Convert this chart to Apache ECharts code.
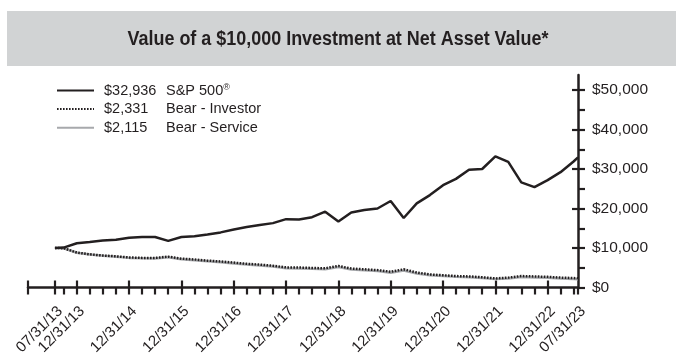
<!DOCTYPE html>
<html><head><meta charset="utf-8">
<script src="https://cdn.jsdelivr.net/npm/echarts@6/dist/echarts.min.js"></script>
<style>html,body{margin:0;padding:0;background:#fff}#c{width:676px;height:355px}</style>
</head><body><div id="c"></div>
<script>
const titleText = 'Value of a $10,000 Investment at Net Asset Value*';
const dates = [
  '2013-07-31','2013-09-30','2013-12-31',
  '2014-03-31','2014-06-30','2014-09-30','2014-12-31',
  '2015-03-31','2015-06-30','2015-09-30','2015-12-31',
  '2016-03-31','2016-06-30','2016-09-30','2016-12-31',
  '2017-03-31','2017-06-30','2017-09-30','2017-12-31',
  '2018-03-31','2018-06-30','2018-09-30','2018-12-31',
  '2019-03-31','2019-06-30','2019-09-30','2019-12-31',
  '2020-03-31','2020-06-30','2020-09-30','2020-12-31',
  '2021-03-31','2021-06-30','2021-09-30','2021-12-31',
  '2022-03-31','2022-06-30','2022-09-30','2022-12-31',
  '2023-03-31','2023-06-30','2023-07-31'
];
const sp500 = [10000,10100,11200,11500,11900,12100,12600,12800,12800,11800,12800,13000,13400,13950,14700,15300,15800,16300,17300,17200,17800,19200,16700,19000,19600,20000,21900,17600,21300,23400,25900,27500,29800,30000,33200,31800,26600,25400,27200,29200,31900,32936];
const bearInvestor = [10000,9950,8850,8400,8100,7900,7600,7500,7500,7800,7300,7100,6800,6600,6300,6000,5800,5500,5100,5050,4950,4850,5450,4800,4600,4400,4000,4600,3800,3300,3100,2900,2800,2600,2300,2500,2900,2800,2700,2500,2400,2331];
const bearService = [10000,9930,8810,8350,8030,7810,7500,7380,7360,7640,7140,6920,6620,6410,6100,5800,5590,5290,4890,4830,4720,4620,5180,4550,4350,4150,3760,4320,3560,3080,2890,2690,2590,2400,2120,2300,2660,2560,2460,2280,2180,2115];
const seriesNames = ['S&P 500®','Bear - Investor','Bear - Service'];
const endingValues = ['$32,936','$2,331','$2,115'];
const xAxisStart = '2013-01-24';
const xAxisEnd = '2023-07-31';
const xLabelDates = ['2013-07-31','2013-12-31','2014-12-31','2015-12-31','2016-12-31','2017-12-31','2018-12-31','2019-12-31','2020-12-31','2021-12-31','2022-12-31','2023-07-31'];
const xTickDates = ['2013-01-24','2013-07-31','2013-09-30','2013-12-31',
  '2014-03-31','2014-06-30','2014-09-30','2014-12-31',
  '2015-03-31','2015-06-30','2015-09-30','2015-12-31',
  '2016-03-31','2016-06-30','2016-09-30','2016-12-31',
  '2017-03-31','2017-06-30','2017-09-30','2017-12-31',
  '2018-03-31','2018-06-30','2018-09-30','2018-12-31',
  '2019-03-31','2019-06-30','2019-09-30','2019-12-31',
  '2020-03-31','2020-06-30','2020-09-30','2020-12-31',
  '2021-03-31','2021-06-30','2021-09-30','2021-12-31',
  '2022-03-31','2022-06-30','2022-09-30','2022-12-31',
  '2023-03-31','2023-06-30','2023-07-31'];
const xCrossDates = ['2013-01-24','2013-07-31','2013-12-31','2014-12-31','2015-12-31','2016-12-31','2017-12-31','2018-12-31','2019-12-31','2020-12-31','2021-12-31','2022-12-31'];
const yMin = 0, yMax = 53800;
const yTickValues = [0,5000,10000,15000,20000,25000,30000,35000,40000,45000,50000];
const yLabelValues = [0,10000,20000,30000,40000,50000];

const INK = '#231f20';
const toTs = s => Date.UTC(+s.slice(0,4), +s.slice(5,7)-1, +s.slice(8,10));
const pad2 = n => (n < 10 ? '0' : '') + n;
const fmtDate = v => { const d = new Date(v); return pad2(d.getUTCMonth()+1) + '/' + pad2(d.getUTCDate()) + '/' + pad2(d.getUTCFullYear() % 100); };
const fmtMoney = v => '$' + String(Math.round(v)).replace(/\B(?=(\d{3})+(?!\d))/g, ',');
const FONT = "'Liberation Sans', Arial, sans-serif";
const TITLE_FONT = 'bold 20px "Liberation Sans", Arial, sans-serif';
const titleWidth = 421;
const mctx = document.createElement('canvas').getContext('2d');
mctx.font = TITLE_FONT;
const titleScaleX = titleWidth / mctx.measureText(titleText).width;

const chart = echarts.init(document.getElementById('c'), null, {renderer: 'canvas'});
const mk = arr => dates.map((d, i) => [toTs(d), arr[i]]);
const option = {
  animation: false,
  backgroundColor: '#fff',
  graphic: [
    {type: 'rect', z: -10, shape: {x: 7, y: 11, width: 669, height: 55}, style: {fill: '#d1d3d4'}},
    {type: 'text', z: 10, x: 338, y: 39, scaleX: titleScaleX,
      style: {text: titleText, font: TITLE_FONT, fill: INK, textAlign: 'center', textVerticalAlign: 'middle'}}
  ],
  legend: {
    orient: 'vertical', left: 56, top: 83, padding: 0, itemWidth: 37, itemHeight: 14, itemGap: 3.6,
    selectedMode: false, data: seriesNames,
    itemStyle: {opacity: 0},
    formatter: name => {
      const i = seriesNames.indexOf(name);
      const v = '{v|' + endingValues[i] + '}';
      if (name.endsWith('®')) return v + '{n|' + name.slice(0, -1) + '}{r|®}';
      return v + '{n|' + name + '}';
    },
    textStyle: {color: INK, fontFamily: FONT, fontSize: 14.5,
      rich: {
        v: {width: 62, padding: [0,0,0,5], fontSize: 14.5, color: INK, fontFamily: FONT},
        n: {fontSize: 14.5, color: INK, fontFamily: FONT},
        r: {fontSize: 9, color: INK, fontFamily: FONT, verticalAlign: 'top', padding: [0,0,6,0]}
      }}
  },
  grid: {left: 28, right: 98, top: 75, bottom: 67.5, containLabel: false, outerBoundsMode: 'none'},
  xAxis: [
    {type: 'value', min: toTs(xAxisStart), max: toTs(xAxisEnd), position: 'bottom', scale: true,
      axisLine: {show: true, lineStyle: {color: INK, width: 2.5}},
      axisTick: {show: true, inside: false, length: 7, lineStyle: {color: INK, width: 2.2}, customValues: xTickDates.map(toTs)},
      axisLabel: {show: true, rotate: 45, margin: 16, fontSize: 15, color: INK, fontFamily: FONT,
        verticalAlign: 'top', align: 'right',
        customValues: xLabelDates.map(toTs), formatter: v => fmtDate(v)},
      splitLine: {show: false}, minorTick: {show: false}},
    {type: 'value', min: toTs(xAxisStart), max: toTs(xAxisEnd), position: 'bottom', scale: true,
      axisLine: {show: false},
      axisTick: {show: true, inside: true, length: 7, lineStyle: {color: INK, width: 2.2}, customValues: xCrossDates.map(toTs)},
      axisLabel: {show: false}, splitLine: {show: false}}
  ],
  yAxis: [
    {type: 'value', min: yMin, max: yMax, position: 'right',
      axisLine: {show: true, lineStyle: {color: INK, width: 2.5}},
      axisTick: {show: true, inside: false, length: 7, lineStyle: {color: INK, width: 2.2}, customValues: yTickValues},
      axisLabel: {show: true, margin: 14, fontSize: 15.5, color: INK, fontFamily: FONT,
        customValues: yLabelValues, formatter: v => fmtMoney(v)},
      splitLine: {show: false}},
    {type: 'value', min: yMin, max: yMax, position: 'right',
      axisLine: {show: false},
      axisTick: {show: true, inside: true, length: 6, lineStyle: {color: INK, width: 2.2}, customValues: yLabelValues.filter(v => v > 0)},
      axisLabel: {show: false}, splitLine: {show: false}}
  ],
  series: [
    {name: seriesNames[2], type: 'line', symbol: 'none', data: mk(bearService), z: 2,
      lineStyle: {color: '#a7a9ac', width: 2.5}, itemStyle: {color: '#a7a9ac'}},
    {name: seriesNames[1], type: 'line', symbol: 'none', data: mk(bearInvestor), z: 3,
      lineStyle: {color: INK, width: 2.5, type: [1.6, 1.4]}, itemStyle: {color: INK}},
    {name: seriesNames[0], type: 'line', symbol: 'none', data: mk(sp500), z: 4,
      lineStyle: {color: INK, width: 2.5}, itemStyle: {color: INK}}
  ]
};
chart.setOption(option);
</script>
</body></html>
